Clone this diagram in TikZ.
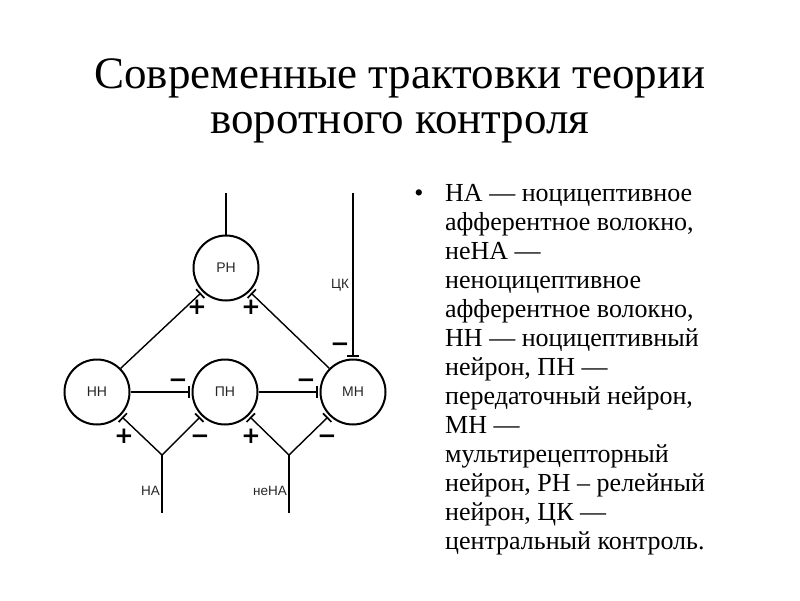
\documentclass[tikz,border=0pt]{standalone}
\usepackage{fontspec}
\setmainfont{Liberation Serif}
\newfontfamily\labelFont{Liberation Sans}
\newfontfamily\signFont{DejaVu Sans}
\usetikzlibrary{arrows.meta}
\tikzstyle{slide} = [x = 1pt, y = -1pt]
\tikzstyle{titleText} = [anchor = base, inner sep = 0pt, font = \fontsize{45}{45}\selectfont]
\tikzstyle{noteText} = [anchor = base west, inner sep = 0pt, font = \fontsize{26}{26}\selectfont]
\tikzstyle{neuron} = [circle, draw, line width = 2pt, minimum size = 65pt, inner sep = 0pt, text = black!85, font = \labelFont\fontsize{14}{14}\selectfont]
\tikzstyle{fibre} = [line width = 1.4pt]
\tikzstyle{synapse} = [fibre, -{Bar[width = 12pt, line width = 1.7pt]}, shorten > = 2pt]
\tikzstyle{fibreLabel} = [inner sep = 0pt, text = black!85, font = \labelFont\fontsize{13.5}{13.5}\selectfont]
\tikzstyle{signText} = [anchor = base, inner sep = 0pt, font = \signFont\bfseries\fontsize{23}{23}\selectfont]
\newcommand{\synapseSign}[4]{\node (#1) [signText] at (#2, #3 + 8) {#4};}

\begin{document}
\begin{tikzpicture}[slide]
  \useasboundingbox (0, 0) rectangle (800, 600);
  % title
  \node (titleTop) [titleText] at (400, 88) {Современные трактовки теории};
  \node (titleBottom) [titleText] at (400, 133) {воротного контроля};
  % neurons
  \node (rn) [neuron] at (226, 268) {РН};
  \node (nn) [neuron] at (97, 392) {НН};
  \node (pn) [neuron] at (225, 392) {ПН};
  \node (mn) [neuron] at (353, 392) {МН};
  % fibres
  \coordinate (rnOut) at (226, 193);
  \coordinate (ckIn) at (353, 193);
  \coordinate (naFork) at (162, 455);
  \coordinate (naIn) at (162, 513);
  \coordinate (nenaFork) at (289, 455);
  \coordinate (nenaIn) at (289, 513);
  \draw [fibre] (rn.north) -- (rnOut);
  \draw [synapse] (ckIn) -- (mn.north);
  \draw [synapse] (nn.45) -- (rn.225);
  \draw [synapse] (mn.135) -- (rn.315);
  \draw [synapse] (nn.east) -- (pn.west);
  \draw [synapse] (pn.east) -- (mn.west);
  \draw [fibre] (naIn) -- (naFork);
  \draw [synapse] (naFork) -- (nn.-45);
  \draw [synapse] (naFork) -- (pn.-135);
  \draw [fibre] (nenaIn) -- (nenaFork);
  \draw [synapse] (nenaFork) -- (pn.-45);
  \draw [synapse] (nenaFork) -- (mn.-135);
  % fibre labels
  \node (ckLabel) [fibreLabel] at (340, 285) {ЦК};
  \node (naLabel) [fibreLabel, anchor = east] at (160, 491) {НА};
  \node (nenaLabel) [fibreLabel, anchor = east] at (287, 491) {неНА};
  % signs
  \synapseSign{plusRnLeft}{197}{306}{+}
  \synapseSign{plusRnRight}{251}{306}{+}
  \synapseSign{minusCk}{340}{343}{−}
  \synapseSign{minusPn}{178}{379}{−}
  \synapseSign{minusMn}{306}{379}{−}
  \synapseSign{plusNaNn}{124}{435}{+}
  \synapseSign{minusNaPn}{200}{435}{−}
  \synapseSign{plusNenaPn}{251}{435}{+}
  \synapseSign{minusNenaMn}{327}{435}{−}
  % notes
  \node (bullet) [noteText, anchor = base] at (419, 201.7) {•};
  \foreach \lineText [count = \k] in {{НА — ноцицептивное}, {афферентное волокно,}, {неНА —}, {неноцицептивное}, {афферентное волокно,}, {НН — ноцицептивный}, {нейрон, ПН —}, {передаточный нейрон,}, {МН —}, {мультирецепторный}, {нейрон, РН – релейный}, {нейрон, ЦК —}, {центральный контроль.}}
    \node (note\k) [noteText] at (445, 172.7 + 29 * \k) {\lineText};
\end{tikzpicture}
\end{document}
